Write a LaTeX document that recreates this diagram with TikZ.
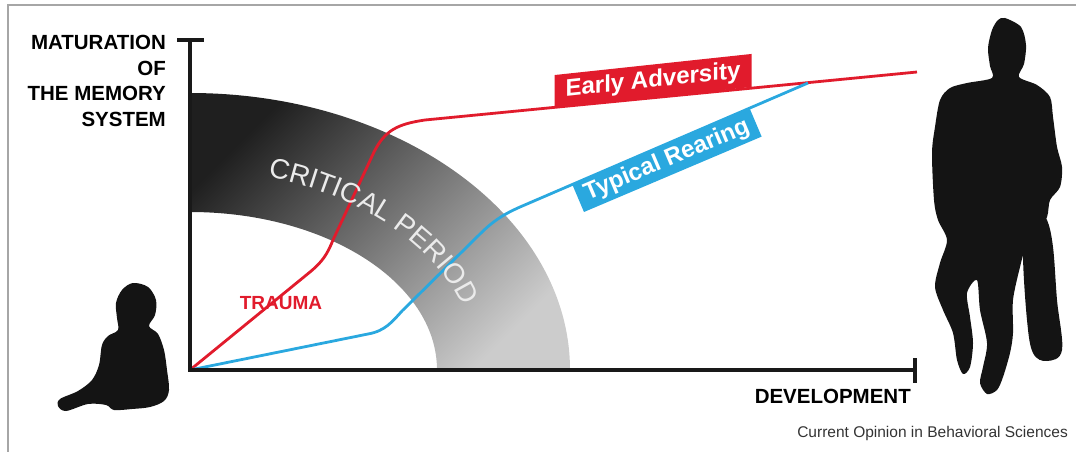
\documentclass[tikz,border=0pt]{standalone}
\usepackage{fontspec}
\setmainfont{Liberation Sans}
\usetikzlibrary{decorations.text}

\definecolor{vermelho}{HTML}{E11B2C}
\definecolor{azul}{HTML}{2AA8DF}
\definecolor{silhueta}{HTML}{141414}

\tikzset{
  eixo/.style={line width=4, black!90},
  curva/.style={line width=2.8, line join=round},
  caixa/.style={inner sep=0, text=white, font=\fontsize{24}{28}\selectfont\bfseries},
  rotulo/.style={inner sep=0, font=\fontsize{20.5}{25.6}\selectfont\bfseries},
}

\begin{document}
\begin{tikzpicture}[x=1pt, y=-1pt]
    \useasboundingbox (0,0) rectangle (1076,452);

    % Moldura
    \draw[black!35, line width=2] (8,452) -- (8,5) -- (1076,5);

    % Pontos dos eixos e das curvas
    \coordinate (O) at (190,370);
    \coordinate (ytop) at (190,40);
    \coordinate (xfim) at (915,370);
    \coordinate (eaFim) at (917,72);
    \coordinate (trFim) at (808,83);

    % Periodo critico
    \shade[top color=black!88, middle color=black!72, bottom color=black!20, shading angle=45]
        (190,93) arc[start angle=-90, end angle=0, x radius=380, y radius=277]
        -- (437,370) arc[start angle=0, end angle=-90, x radius=247, y radius=158] -- cycle;

    % Curvas
    \draw[curva, vermelho] (O) -- (310,272) .. controls (322,262) and (327,255) .. (333,240)
        -- (374,152) .. controls (385,130) and (398,124) .. (425,120) -- (eaFim);
    \draw[curva, azul] (O) -- (368,334) .. controls (385,331) and (392,322) .. (402,311)
        -- (480,234) .. controls (492,222) and (502,215) .. (520,207) -- (trFim);

    \path[decorate, decoration={text along path, text align=center,
        text={|\fontsize{28}{28}\selectfont\color{white!92!black}|CRITICAL PERIOD}}]
        (210,170) arc[start angle=-86, end angle=-2, x radius=288, y radius=200];

    % Rotulos das curvas
    \node[caixa, fill=vermelho, minimum width=197, minimum height=33, yslant=0.107, anchor=south] (ea) at (653,97.7) {Early Adversity};
    \node[caixa, fill=azul, minimum width=193, minimum height=30, rotate=23, anchor=north] (tr) at (661,146.5) {Typical Rearing};
    \node[text=vermelho, inner sep=0, font=\fontsize{19}{19}\selectfont\bfseries] (trauma) at (281,303) {TRAUMA};

    % Eixos
    \draw[eixo] (ytop) -- (O) -- (xfim);
    \draw[eixo] ([xshift=-13]ytop) -- ([xshift=14]ytop);
    \draw[eixo] ([yshift=12]xfim) -- ([yshift=-13]xfim);
    \node[rotulo, anchor=north east, align=right] (ylabel) at (166,35) {MATURATION\\OF\\THE MEMORY\\SYSTEM};
    \node[rotulo, anchor=base east] (xlabel) at (911,403) {DEVELOPMENT};

    % Silhuetas
    \fill[silhueta] plot[smooth cycle, tension=0.55] coordinates {
        (133,283) (148,287) (156,300) (155,315) (149,326) (158,334) (164,350) (167,370)
        (169,390) (164,401) (150,407) (132,409) (114,410) (106,405) (88,404) (66,411)
        (58,406) (60,399) (78,391) (92,380) (99,365) (102,345) (108,336) (118,330)
        (117,318) (116,303) (122,290)};
    \fill[silhueta] plot[smooth cycle, tension=0.5] coordinates {
        (1005,18) (1021,27) (1026,45) (1024,64) (1019,77) (1037,85) (1050,97) (1053,117)
        (1057,147) (1062,167) (1060,187) (1050,200) (1047,217) (1037,233) (1027,243)
        (1020,267) (1013,300) (1013,333) (1010,353) (1003,377) (997,390) (987,394)
        (980,383) (983,367) (987,343) (980,310) (977,280) (967,293) (970,317) (973,343)
        (970,367) (963,374) (957,360) (953,333) (943,310) (935,287) (940,263) (947,240)
        (938,220) (934,200) (932,153) (935,127) (940,100) (950,88) (967,83) (992,78)
        (990,66) (988,48) (992,30) (998,20)};
    \fill[silhueta] plot[smooth cycle, tension=0.6] coordinates {
        (1038,213) (1028,233) (1023,253) (1027,320) (1033,353) (1047,361) (1062,350)
        (1057,300) (1053,247) (1047,220)};

    % Fonte
    \node[anchor=base east, inner sep=0, font=\fontsize{15.5}{18}\selectfont, text=black!80] (fonte) at (1068,437) {Current Opinion in Behavioral Sciences};
\end{tikzpicture}
\end{document}
